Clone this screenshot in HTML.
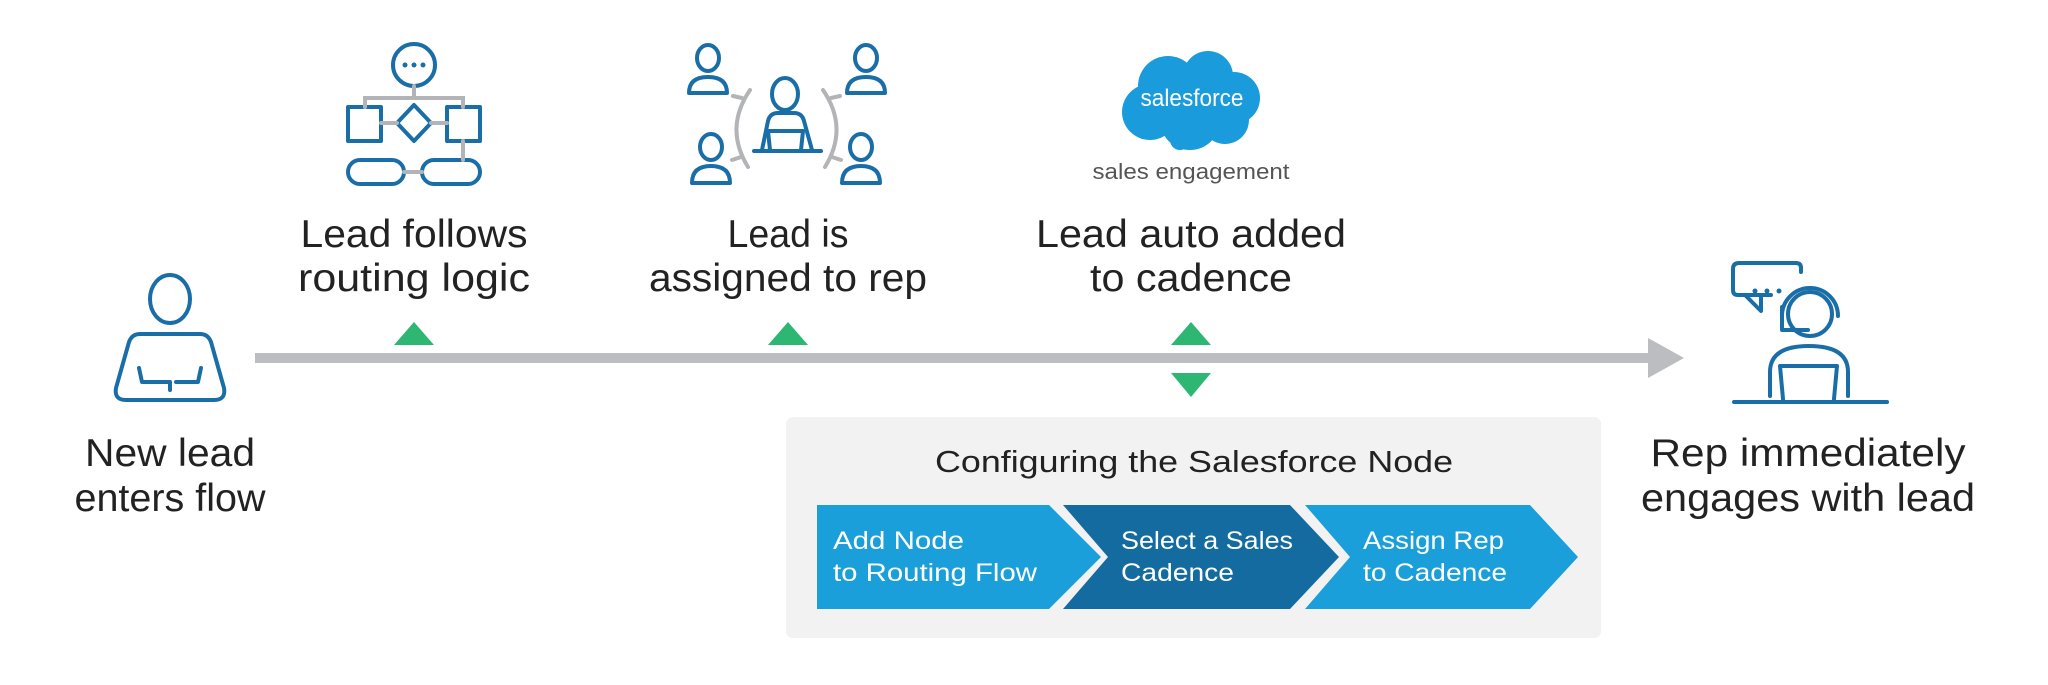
<!DOCTYPE html>
<html><head><meta charset="utf-8"><style>
html,body{margin:0;padding:0;background:#fff}
svg{display:block}
text{font-family:"Liberation Sans",sans-serif}
</style></head><body>
<svg width="2048" height="685" viewBox="0 0 2048 685" xmlns="http://www.w3.org/2000/svg">
<rect x="255" y="353" width="1395" height="10" fill="#bcbdc1"/>
<polygon points="1648,338 1684,358 1648,378" fill="#bcbdc1"/>
<g fill="#2eb673">
<polygon points="394,345 414,322 434,345"/>
<polygon points="768,345 788,322 808,345"/>
<polygon points="1171,345 1191,322 1211,345"/>
<polygon points="1171,373 1211,373 1191,397"/>
</g>
<g fill="none" stroke="#1a6ea8" stroke-width="4" stroke-linejoin="round" stroke-linecap="round">
<ellipse cx="170" cy="299" rx="20" ry="24"/>
<path d="M140,334 L200,334 Q208,334 211,342 L224,388 Q226,400 214,400 L126,400 Q114,400 116,388 L129,342 Q132,334 140,334 Z"/>
<path d="M139,368 L142,382 L170,382 L170,390"/>
<path d="M201,368 L198,382 L176,382"/>
<rect x="348" y="107" width="33" height="34"/>
<rect x="447" y="107" width="33" height="34"/>
<polygon points="414,105 431,123 414,141 397,123"/>
<rect x="348" y="160" width="56" height="24" rx="12"/>
<rect x="422" y="160" width="58" height="24" rx="12"/>
<circle cx="414" cy="65" r="21"/>
<ellipse cx="708" cy="58" rx="11" ry="13"/>
<path d="M689,93 Q689,77 708,77 Q727,77 727,93 Z"/>
<ellipse cx="866" cy="58" rx="11" ry="13"/>
<path d="M847,93 Q847,77 866,77 Q885,77 885,93 Z"/>
<ellipse cx="711" cy="147" rx="11" ry="13"/>
<path d="M692,183 Q692,166 711,166 Q730,166 730,183 Z"/>
<ellipse cx="861" cy="147" rx="11" ry="13"/>
<path d="M842,183 Q842,166 861,166 Q880,166 880,183 Z"/>
<ellipse cx="785" cy="94" rx="13" ry="16"/>
<path d="M762,150 L768,121 Q770,113 778,113 L794,113 Q802,113 804,121 L812,150"/>
<path d="M754,151 L821,151"/>
<path d="M770,150 L768,131 L803,131 L801,150"/>
<path d="M1771,295 L1738,295 Q1733,295 1733,290 L1733,269 Q1733,263 1739,263 L1796,263 Q1801,263 1801,268 L1801,272"/>
<path d="M1745,295 L1761,311 L1761,295"/>
<circle cx="1810" cy="314" r="22"/>
<path d="M1782,316 A28,28 0 0,1 1838,316"/>
<path d="M1782,307 L1782,330 L1808,330"/>
<path d="M1770,396 L1770,372 Q1770,346 1809,346 Q1848,346 1848,372 L1848,396"/>
<path d="M1783,399 L1780,366 L1837,366 L1834,399"/>
<path d="M1734,402 L1887,402"/>
</g>
<g fill="#1a6ea8">
<circle cx="1755" cy="291" r="2.5"/><circle cx="1767" cy="291" r="2.5"/><circle cx="1779" cy="291" r="2.5"/>
<circle cx="405" cy="65" r="2.5"/><circle cx="414" cy="65" r="2.5"/><circle cx="423" cy="65" r="2.5"/>
</g>
<g fill="none" stroke="#b3b4b8" stroke-width="4" stroke-linecap="round">
<path d="M414,86 L414,98 M365,107 L365,98 L463,98 L463,107 M381,123 L397,123 M431,123 L447,123 M463,141 L463,160 M404,172 L422,172"/>
<path d="M750,90 Q724,128 748,167 M742,98 L733,96 M741,157 L732,160"/>
<path d="M823,90 Q849,128 825,167 M831,98 L840,96 M832,157 L841,160"/>
</g>
<g fill="#1a9bdc">
<circle cx="1168" cy="86" r="30"/>
<circle cx="1208" cy="76" r="25"/>
<circle cx="1234" cy="98" r="26"/>
<circle cx="1150" cy="112" r="28"/>
<circle cx="1190" cy="120" r="30"/>
<circle cx="1225" cy="120" r="24"/>
<circle cx="1180" cy="140" r="10"/>
</g>
<text x="1192" y="106" font-size="24" fill="#fff" text-anchor="middle" textLength="103" lengthAdjust="spacingAndGlyphs">salesforce</text>
<text x="1191" y="179" font-size="22" fill="#555" text-anchor="middle" textLength="197" lengthAdjust="spacingAndGlyphs">sales engagement</text>
<g font-size="39" fill="#222" text-anchor="middle">
<text x="170" y="466" textLength="170" lengthAdjust="spacingAndGlyphs">New lead</text>
<text x="170" y="511" textLength="191" lengthAdjust="spacingAndGlyphs">enters flow</text>
<text x="414" y="247" textLength="227" lengthAdjust="spacingAndGlyphs">Lead follows</text>
<text x="414" y="291" textLength="232" lengthAdjust="spacingAndGlyphs">routing logic</text>
<text x="788" y="247" textLength="121" lengthAdjust="spacingAndGlyphs">Lead is</text>
<text x="788" y="291" textLength="278" lengthAdjust="spacingAndGlyphs">assigned to rep</text>
<text x="1191" y="247" textLength="310" lengthAdjust="spacingAndGlyphs">Lead auto added</text>
<text x="1191" y="291" textLength="202" lengthAdjust="spacingAndGlyphs">to cadence</text>
<text x="1808" y="466" textLength="315" lengthAdjust="spacingAndGlyphs">Rep immediately</text>
<text x="1808" y="511" textLength="334" lengthAdjust="spacingAndGlyphs">engages with lead</text>
</g>
<rect x="786" y="417" width="815" height="221" rx="7" fill="#f2f2f3"/>
<text x="1194" y="472" font-size="31" fill="#222" text-anchor="middle" textLength="518" lengthAdjust="spacingAndGlyphs">Configuring the Salesforce Node</text>
<polygon points="817,505 1049,505 1101,557 1049,609 817,609" fill="#1b9fdb"/>
<polygon points="1063,505 1290,505 1339,557 1290,609 1063,609 1108,557" fill="#146b9f"/>
<polygon points="1305,505 1530,505 1578,557 1530,609 1305,609 1350,557" fill="#1b9fdb"/>
<g font-size="25" fill="#fff">
<text x="833" y="549" textLength="131" lengthAdjust="spacingAndGlyphs">Add Node</text>
<text x="833" y="581" textLength="204" lengthAdjust="spacingAndGlyphs">to Routing Flow</text>
<text x="1121" y="549" textLength="172" lengthAdjust="spacingAndGlyphs">Select a Sales</text>
<text x="1121" y="581" textLength="113" lengthAdjust="spacingAndGlyphs">Cadence</text>
<text x="1363" y="549" textLength="141" lengthAdjust="spacingAndGlyphs">Assign Rep</text>
<text x="1363" y="581" textLength="144" lengthAdjust="spacingAndGlyphs">to Cadence</text>
</g>
</svg>
</body></html>
